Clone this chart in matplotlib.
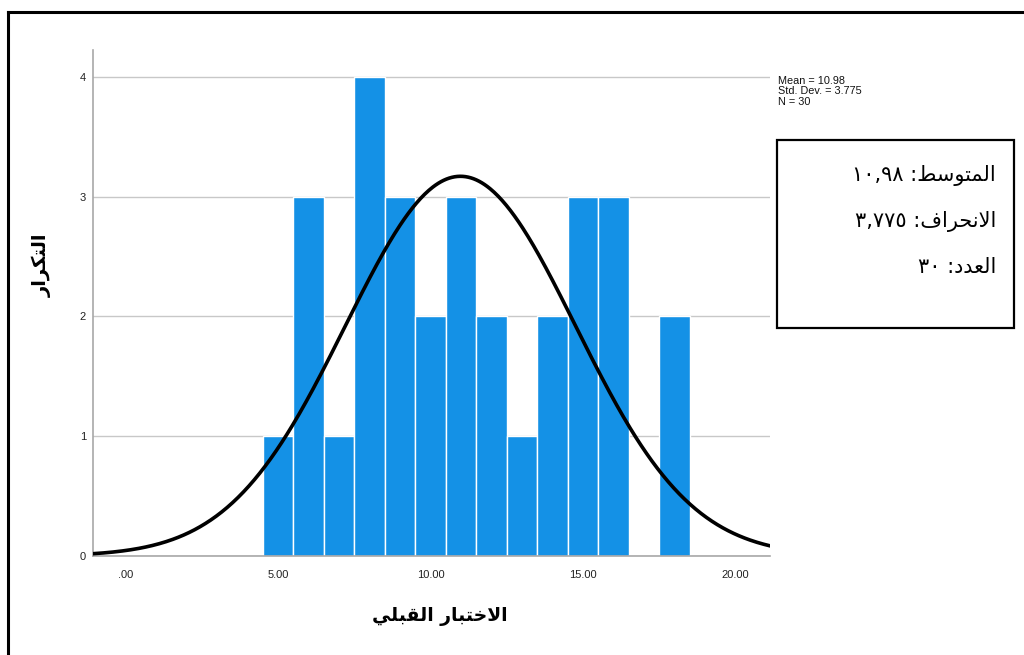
import numpy as np
import matplotlib
matplotlib.use("Agg")
import matplotlib.pyplot as plt
from matplotlib.patches import Rectangle
from matplotlib.lines import Line2D

# ---- data ----
bin_centers = [5, 6, 7, 8, 9, 10, 11, 12, 13, 14, 15, 16, 17, 18]
counts = [1, 3, 1, 4, 3, 2, 3, 2, 1, 2, 3, 3, 0, 2]
bin_width = 1.0
mean_val = 10.98
std_val = 3.775
n_val = 30
x_ticks = [0, 5, 10, 15, 20]
x_tick_labels = [".00", "5.00", "10.00", "15.00", "20.00"]
y_ticks = [0, 1, 2, 3, 4]

# Arabic text (pre-shaped presentation forms, visual order)
ylabel_txt = "\uFEAD\uFE8D\uFEAE\uFEDC\uFE98\uFEDF\uFE8D"  # التكرار
xlabel_txt = ("\uFEF2\uFEE0\uFE92\uFED8\uFEDF\uFE8D" + " " +
              "\uFEAD\uFE8E\uFE92\uFE98\uFEA7\uFEFB\uFE8D")  # الاختبار القبلي
box_lines = [
    "\u0661\u0660,\u0669\u0668 :" + "\uFEC2\uFEB3\uFEEE\uFE98\uFEE4\uFEDF\uFE8D",  # المتوسط: ١٠,٩٨
    "\u0663,\u0667\u0667\u0665 :" + "\uFED1\uFE8D\uFEAE\uFEA4\uFEE7\uFEFB\uFE8D",  # الانحراف: ٣,٧٧٥
    "\u0663\u0660 :" + "\uFEA9\uFEAA\uFECC\uFEDF\uFE8D",  # العدد: ٣٠
]

W, H = 1024, 655
fig = plt.figure(figsize=(W / 100, H / 100), dpi=100)

# page border (top and left lines)
fig.add_artist(Line2D([8 / W, 1.0], [1 - 12 / H, 1 - 12 / H], color="black", lw=2.2))
fig.add_artist(Line2D([8 / W, 8 / W], [1 - 12 / H, 0], color="black", lw=2.2))

ax_l, ax_r, ax_t, ax_b = 93, 770, 50, 556
ax = fig.add_axes([ax_l / W, 1 - ax_b / H, (ax_r - ax_l) / W, (ax_b - ax_t) / H])
ax.set_facecolor("none")

ax.bar(bin_centers, counts, width=bin_width, color="#1491E6", edgecolor="white",
       linewidth=1.0, zorder=2)

xs = np.linspace(-1.1, 21.2, 500)
ys = n_val * bin_width / (std_val * np.sqrt(2 * np.pi)) * np.exp(-0.5 * ((xs - mean_val) / std_val) ** 2)
ax.plot(xs, ys, color="black", lw=2.6, zorder=3)

ax.set_xlim(-1.08, 21.14)
ax.set_ylim(0, 4.225)
ax.set_yticks(y_ticks)
ax.set_yticklabels([str(v) for v in y_ticks])
ax.set_xticks(x_ticks)
ax.set_xticklabels(x_tick_labels)
ax.tick_params(axis="both", length=0, labelsize=8, colors="#222222", labelfontfamily="Liberation Sans")
ax.tick_params(axis="x", pad=10)
ax.tick_params(axis="y", pad=5)
ax.grid(axis="y", color="#c8c8c8", lw=1.0, zorder=1)
ax.set_axisbelow(True)
for s in ["top", "right"]:
    ax.spines[s].set_visible(False)
for s in ["left", "bottom"]:
    ax.spines[s].set_color("#a8a8a8")
    ax.spines[s].set_linewidth(1.2)

# stats text
fig.text(778 / W, 1 - 76 / H, "Mean = 10.98\nStd. Dev. = 3.775\nN = 30", fontsize=7.8,
         family="Liberation Sans", va="top", ha="left", linespacing=1.05, color="#111111")

# text box
fig.add_artist(Rectangle((777 / W, 1 - 328 / H), (1014 - 777) / W, (328 - 140) / H,
                         transform=fig.transFigure, fill=False, edgecolor="black", lw=1.6))
for i, line in enumerate(box_lines):
    fig.text(996 / W, 1 - (175 + i * 46) / H, line, fontsize=15, family="DejaVu Sans",
             ha="right", va="center", color="black")

# axis labels
fig.text(440 / W, 1 - 617 / H, xlabel_txt, fontsize=13.5, fontweight="bold",
         family="DejaVu Sans", ha="center", va="center")
fig.text(42 / W, 1 - 265 / H, ylabel_txt, fontsize=14, fontweight="bold",
         family="DejaVu Sans", ha="center", va="center", rotation=90)

fig.savefig("out.png", dpi=100)
